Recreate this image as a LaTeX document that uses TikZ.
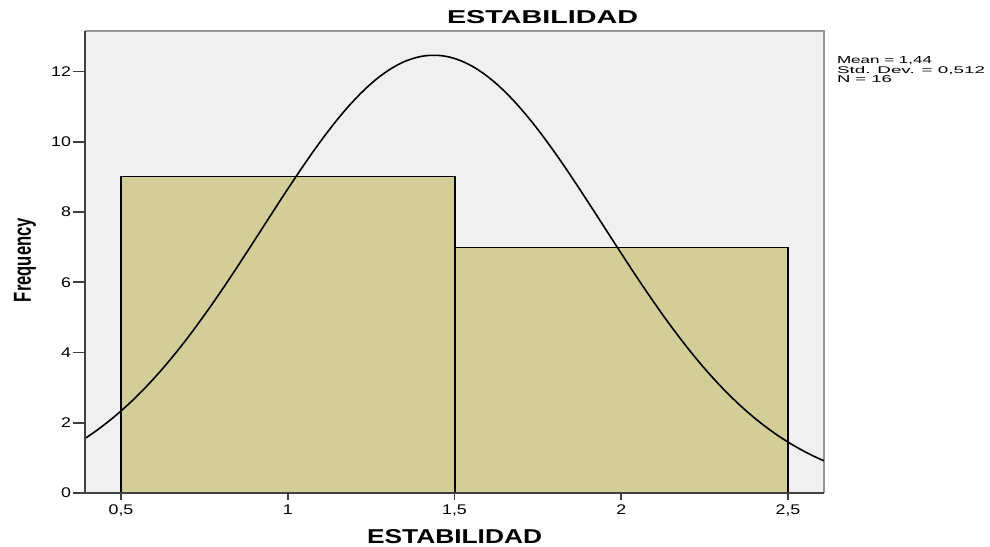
\documentclass[tikz,border=0pt]{standalone}
\usepackage{fontspec}
\setmainfont{Liberation Sans}
\usepackage{graphicx}
\definecolor{barfill}{RGB}{211,206,152}
\definecolor{plotbg}{RGB}{240,240,240}
\definecolor{axisdark}{RGB}{64,64,64}
\definecolor{framegray}{RGB}{150,150,150}
\newcommand\ticktext[1]{\scalebox{1.27}[1]{\fontsize{14}{14}\selectfont #1}}
\begin{document}
\begin{tikzpicture}[x=1pt,y=-1pt,
  lbl/.style={inner sep=0pt,outer sep=0pt},
  barbox/.style={fill=barfill,draw=black,line width=1.2pt},
  tickline/.style={axisdark,line width=1.6pt}]
\useasboundingbox (0,0) rectangle (990,546);
% plot background
\fill[plotbg] (85,31) rectangle (824,493);
\draw[framegray,line width=1.2pt] (85,31) -- (824,31) -- (824,493);
% bars
\draw[barbox] (121,493) rectangle (455,176.8);
\draw[barbox] (455,493) rectangle (788,247.1);
% normal curve
\begin{scope}
\clip (85,31) rectangle (824,493);
\draw[line width=1.6pt,domain=0.395:2.608,samples=160,smooth]
  plot ({121+(\x-0.5)*333.5},{493-437.65*exp(-((\x-1.4375)^2)/0.525)});
\end{scope}
% axes
\draw[axisdark,line width=2pt] (85,31) -- (85,493) -- (824,493);
% y ticks
\foreach \v in {0,2,...,12}{
  \draw[tickline] (73,493-35.13*\v) -- (85,493-35.13*\v);
  \node[lbl,anchor=east] (yt\v) at (71,493-35.13*\v) {\ticktext{\v}};
}
% x ticks
\foreach \v/\l [count=\i] in {0.5/{0,5},1/{1},1.5/{1,5},2/{2},2.5/{2,5}}{
  \draw[tickline] (121+333.5*\v-166.75,493) -- (121+333.5*\v-166.75,500);
  \node[lbl,anchor=base] (xt\i) at (121+333.5*\v-166.75,514) {\ticktext{\l}};
}
% titles
\node[lbl,anchor=base west] (title) at (447,23.3) {\resizebox{191pt}{13pt}{\bfseries ESTABILIDAD}};
\node[lbl,anchor=base west] (xlabel) at (367,543) {\resizebox{175pt}{14pt}{\bfseries ESTABILIDAD}};
\node[lbl,rotate=90,anchor=center] (ylabel) at (25,260) {\resizebox*{84pt}{22pt}{\bfseries Frequency}};
% statistics
\node[lbl,anchor=base west] (mean) at (837,63.8) {\resizebox{95pt}{7pt}{Mean = 1,44}};
\node[lbl,anchor=base west] (sd) at (837,73.2) {\resizebox{148pt}{7pt}{Std. Dev. = 0,512}};
\node[lbl,anchor=base west] (n) at (837,82.4) {\resizebox{55pt}{7pt}{N = 16}};
\end{tikzpicture}
\end{document}
